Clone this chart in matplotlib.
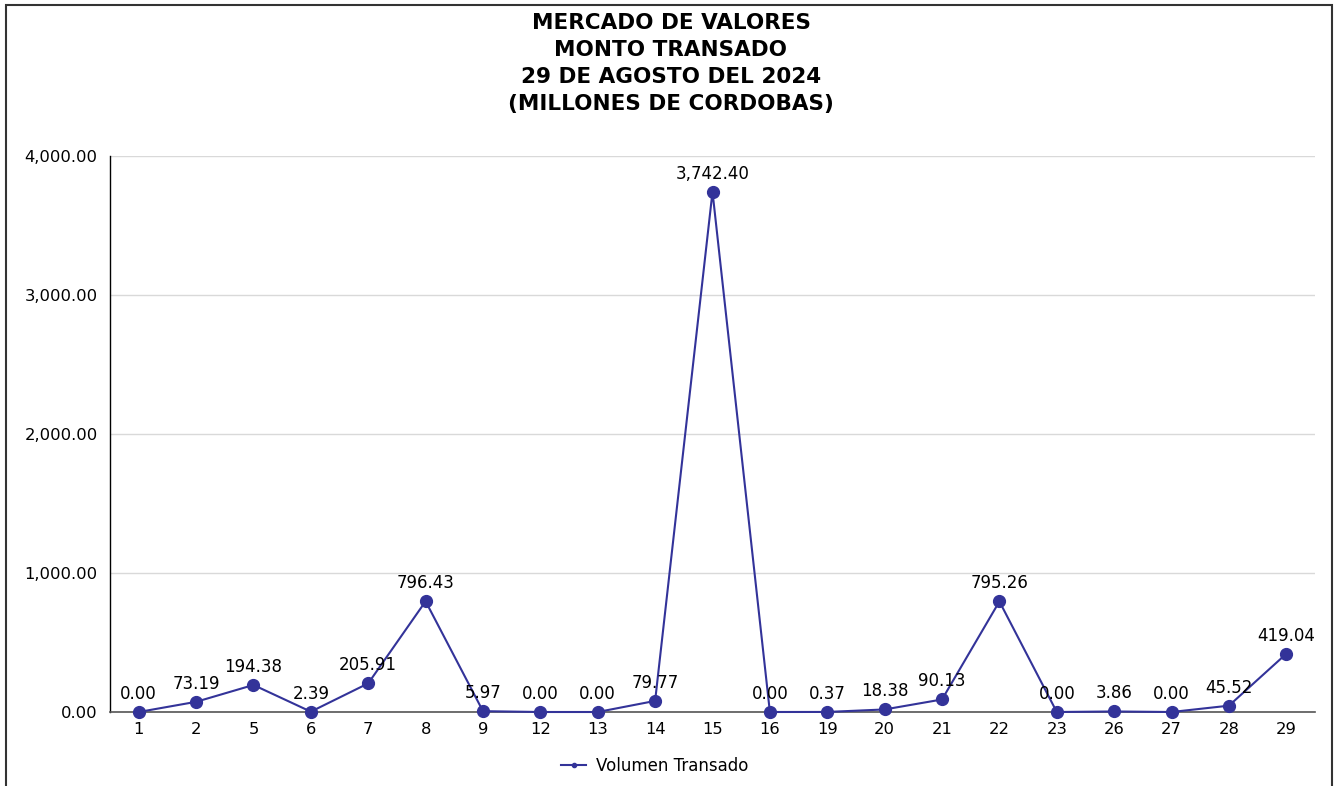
import matplotlib
matplotlib.use("Agg")
import matplotlib.pyplot as plt
from matplotlib.patches import Rectangle
from matplotlib.lines import Line2D

categories = ["1", "2", "5", "6", "7", "8", "9", "12", "13", "14", "15", "16",
              "19", "20", "21", "22", "23", "26", "27", "28", "29"]
values = [0.00, 73.19, 194.38, 2.39, 205.91, 796.43, 5.97, 0.00, 0.00, 79.77,
          3742.40, 0.00, 0.37, 18.38, 90.13, 795.26, 0.00, 3.86, 0.00, 45.52, 419.04]
series_name = "Volumen Transado"
title_lines = ["MERCADO DE VALORES", "MONTO TRANSADO", "29 DE AGOSTO DEL 2024",
               "(MILLONES DE CORDOBAS)"]
yticks = [0, 1000, 2000, 3000, 4000]

color = "#333399"
W, H = 1334, 786
fig = plt.figure(figsize=(W / 100, H / 100), dpi=100)
plt.rcParams['font.family'] = ['DejaVu Sans']

ax = fig.add_axes([110 / W, 1 - 712 / H, (1315 - 110) / W, (712 - 156) / H])
x = list(range(len(categories)))
ax.plot(x, values, color=color, lw=1.5, marker='o', markersize=8.5, zorder=3, clip_on=False)
for xi, v in zip(x, values):
    ax.annotate(f"{v:,.2f}", (xi, v), xytext=(0, 6.5), textcoords='offset points',
                ha='center', va='bottom', fontsize=12, color='black')

ax.set_xlim(-0.5, len(categories) - 0.5)
ax.set_ylim(0, 4000)
ax.set_yticks(yticks)
ax.set_yticklabels([f"{t:,.2f}" for t in yticks], fontsize=11.8)
ax.set_xticks(x)
ax.set_xticklabels(categories, fontsize=11.8)
ax.tick_params(axis='both', length=0)
ax.tick_params(axis='y', pad=9)
ax.tick_params(axis='x', pad=7)
ax.grid(axis='y', color='#d9d9d9', lw=1)
ax.set_axisbelow(True)
for s in ['top', 'right']:
    ax.spines[s].set_visible(False)
ax.spines['left'].set_color('black')
ax.spines['left'].set_linewidth(1)
ax.spines['bottom'].set_color('#555555')
ax.spines['bottom'].set_linewidth(1.2)

ys = [23, 50, 77, 104]
for t, yy in zip(title_lines, ys):
    fig.text(671 / W, 1 - yy / H, t, ha='center', va='center', fontsize=15.5,
             fontweight='bold')

handle = Line2D([0], [0], color=color, lw=1.5, marker='o', markersize=3)
fig.legend([handle], [series_name], loc='center', bbox_to_anchor=(655 / W, 1 - 766 / H),
           frameon=False, fontsize=12, handlelength=1.5, handletextpad=0.6)

fig.patches.append(Rectangle((6 / W, -0.02), (1332 - 6) / W, 1 - 5 / H + 0.02,
                             transform=fig.transFigure, fill=False,
                             edgecolor='#333333', lw=1.5))

fig.savefig("out.png", dpi=100)
